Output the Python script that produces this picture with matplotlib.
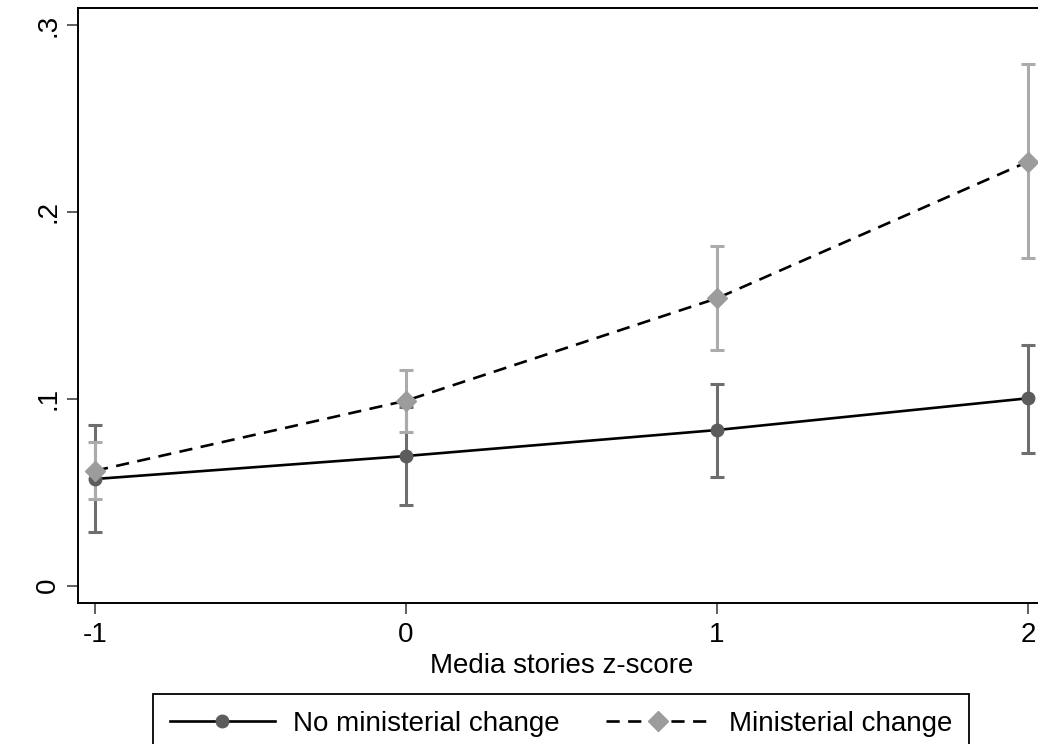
import numpy as np
import matplotlib
matplotlib.use('Agg')
import matplotlib.pyplot as plt
from matplotlib.lines import Line2D

plt.rcParams['font.family'] = ['Liberation Sans', 'DejaVu Sans']

# predicted values and 95% CIs
x = [-1, 0, 1, 2]
no_change = [0.0571, 0.0694, 0.0833, 0.1003]
no_change_lo = [0.0286, 0.0432, 0.0580, 0.0708]
no_change_hi = [0.0860, 0.0956, 0.1079, 0.1286]
min_change = [0.0615, 0.0990, 0.1538, 0.2269]
min_change_lo = [0.0464, 0.0822, 0.1261, 0.1752]
min_change_hi = [0.0767, 0.1154, 0.1818, 0.2791]

yticks = [0, 0.1, 0.2, 0.3]
ytick_labels = ['0', '.1', '.2', '.3']
xticks = [-1, 0, 1, 2]
xtick_labels = ['-1', '0', '1', '2']

dark_ci = '#6e6e6e'
dark_pt = '#5c5c5c'
light_ci = '#ababab'
light_pt = '#9c9c9c'

fig = plt.figure(figsize=(10.38, 7.44), dpi=100)
ax = fig.add_axes([0.0749, 0.1899, 0.9329, 0.7993])

nc = np.array(no_change)
mc = np.array(min_change)
ax.errorbar(x, nc, yerr=[nc - np.array(no_change_lo), np.array(no_change_hi) - nc],
            fmt='none', ecolor=dark_ci, elinewidth=2.2, capsize=5, capthick=2.2, zorder=2)
ax.errorbar(x, mc, yerr=[mc - np.array(min_change_lo), np.array(min_change_hi) - mc],
            fmt='none', ecolor=light_ci, elinewidth=2.2, capsize=5, capthick=2.2, zorder=3)
ax.plot(x, nc, color='black', lw=1.9, zorder=4)
ax.plot(x, mc, color='black', lw=1.9, dashes=(5, 3.2), zorder=4)
ax.plot(x, nc, 'o', color=dark_pt, ms=9, zorder=5)
ax.plot(x, mc, 'D', color=light_pt, ms=10, zorder=6)

ax.set_xlim(-1.0556, 2.058)
ax.set_ylim(-0.0091, 0.3091)
ax.set_xticks(xticks)
ax.set_xticklabels(xtick_labels)
ax.set_yticks(yticks)
ax.set_yticklabels(ytick_labels, rotation=90, va='center')
ax.tick_params(axis='both', labelsize=20, length=8, width=1.1, color='#333333')
ax.tick_params(axis='x', pad=6)
ax.tick_params(axis='y', pad=4)

for s in ['left', 'bottom', 'top']:
    ax.spines[s].set_linewidth(1.4)
    ax.spines[s].set_color('black')
ax.spines['right'].set_visible(False)

fig.text(562 / 1038, 1 - 673 / 744, 'Media stories z-score', ha='center', va='baseline', fontsize=20)

handles = [
    Line2D([], [], color='black', lw=1.9, marker='o', ms=9, mfc=dark_pt, mec=dark_pt),
    Line2D([], [], color='black', lw=1.9, dashes=(5, 3.2), marker='D', ms=10, mfc=light_pt, mec=light_pt),
]
leg = fig.legend(handles, ['No ministerial change', 'Ministerial change'], ncol=2,
                 loc='upper center', bbox_to_anchor=(561 / 1038, 1 - 694 / 744),
                 fontsize=20, handlelength=3.78, handletextpad=0.65, columnspacing=1.66,
                 borderpad=0.6, borderaxespad=0, fancybox=False, framealpha=1, numpoints=1)
leg.get_frame().set_edgecolor('black')
leg.get_frame().set_linewidth(1.3)

fig.savefig('out.png', dpi=100)
